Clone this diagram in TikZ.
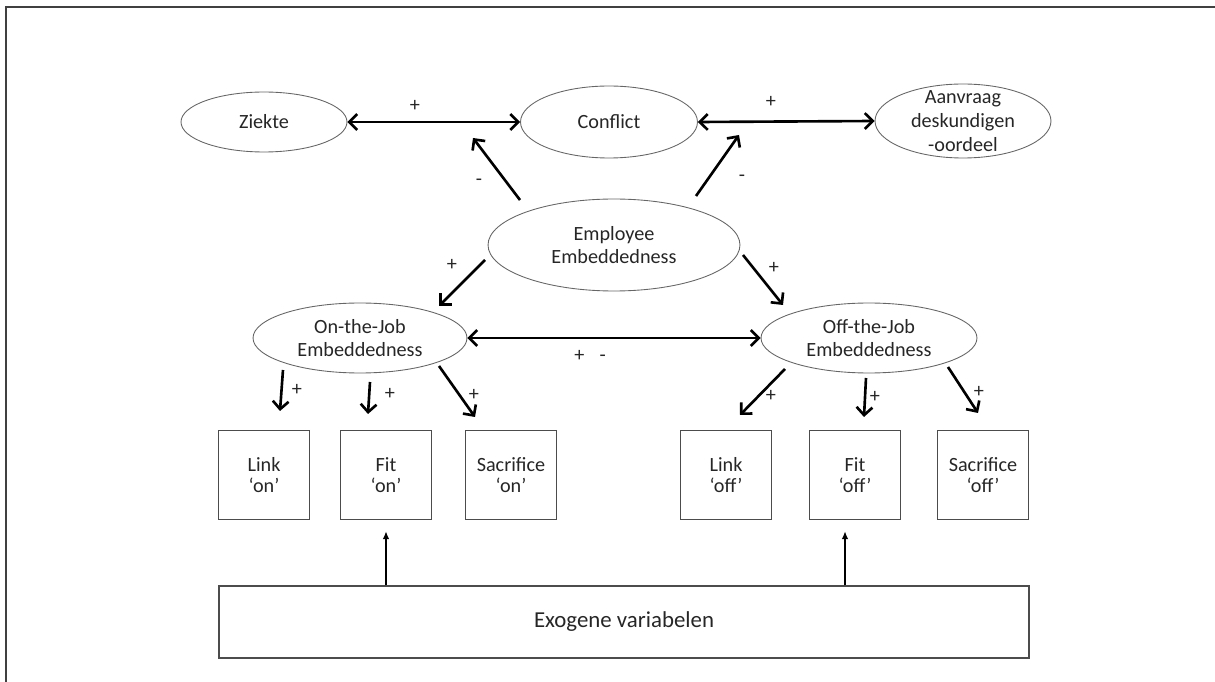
\documentclass[tikz,border=0pt]{standalone}
\usepackage{fontspec}
\setmainfont{Carlito}
\usetikzlibrary{positioning,arrows.meta,shapes.geometric}

\begin{document}
\begin{tikzpicture}[
            x=0.02cm, y=-0.02cm,
            oval/.style={ellipse, draw=black!60, line width=0.5pt, text=black!85, align=center, inner sep=0pt, font=\fontsize{11.5}{13.5}\selectfont},
            box/.style={rectangle, draw=black!70, line width=0.8pt, text=black!85, align=center, minimum width=1.82cm, minimum height=1.78cm, font=\fontsize{11.5}{12}\selectfont},
            sign/.style={text=black!85, inner sep=0pt, font=\fontsize{11.5}{13}\selectfont},
            arr/.style={-{Straight Barb[length=4.5pt,width=9pt]}, line width=1.5pt, black},
            dbl/.style={{Straight Barb[length=4.5pt,width=9pt]}-{Straight Barb[length=4.5pt,width=9pt]}, line width=1.5pt, black},
            uparr/.style={-{Latex[length=4.5pt,width=3.8pt]}, line width=1.1pt, black}
        ]
        \useasboundingbox (0,0) rectangle (1215,682);

        % frame
        \draw[line width=1.3pt, black!75] (6,682) -- (6,7) -- (1215,7);

        % Top row
        \node[oval, minimum width=3.32cm, minimum height=1.2cm] (ziekte) at (264,122) {Ziekte};
        \node[oval, minimum width=3.54cm, minimum height=1.44cm] (conflict) at (609,122) {Conflict};
        \node[oval, minimum width=3.52cm, minimum height=1.48cm, inner ysep=-8pt] (aanvraag) at (963,121) {Aanvraag\\deskundigen\\-oordeel};
        \draw[dbl] (ziekte.east) -- (conflict.west);
        \draw[dbl] (conflict.east) -- (aanvraag.west);
        \node[sign] (s1) at (415,106) {+};
        \node[sign] (s2) at (771,102) {+};

        % Employee embeddedness
        \node[oval, minimum width=5.04cm, minimum height=1.84cm] (employee) at (614,245) {Employee\\Embeddedness};
        \coordinate (eeUL) at (520,200);
        \coordinate (cfL) at (473,138);
        \coordinate (eeUR) at (696,196);
        \coordinate (cfR) at (739,135);
        \draw[arr] (eeUL) -- (cfL);
        \draw[arr] (eeUR) -- (cfR);
        \node[sign] (s3) at (479,182) {-};
        \node[sign] (s4) at (742,178) {-};

        \coordinate (eeL) at (485,260);
        \coordinate (onT) at (439,306);
        \coordinate (eeR) at (743,255);
        \coordinate (offT) at (783,305);
        \draw[arr] (eeL) -- (onT);
        \draw[arr] (eeR) -- (offT);
        \node[sign] (s5) at (452,265) {+};
        \node[sign] (s6) at (774,268) {+};

        % On / Off the job
        \node[oval, minimum width=4.28cm, minimum height=1.4cm] (onjob) at (360,338) {On-the-Job\\Embeddedness};
        \node[oval, minimum width=4.32cm, minimum height=1.4cm] (offjob) at (869,338) {Off-the-Job\\Embeddedness};
        \draw[dbl] (onjob.east) -- (offjob.west);
        \node[sign] (s7) at (590,356) {+\hspace{0.75em}-};

        % Boxes
        \node[box] (linkon) at (264,475) {Link\\‘on’};
        \node[box] (fiton) at (386,475) {Fit\\‘on’};
        \node[box] (sacon) at (511,475) {Sacrifice\\‘on’};
        \node[box] (linkoff) at (726,475) {Link\\‘off’};
        \node[box] (fitoff) at (855,475) {Fit\\‘off’};
        \node[box] (sacoff) at (983,475) {Sacrifice\\‘off’};

        % arrows to the boxes
        \coordinate (on1) at (283,370);
        \coordinate (on1e) at (280,411);
        \coordinate (on2) at (370,382);
        \coordinate (on2e) at (368,414);
        \coordinate (on3) at (439,366);
        \coordinate (on3e) at (475,417);
        \coordinate (off1) at (785,369);
        \coordinate (off1e) at (740,415);
        \coordinate (off2) at (866,378);
        \coordinate (off2e) at (864,417);
        \coordinate (off3) at (948,367);
        \coordinate (off3e) at (978,413);
        \draw[arr] (on1) -- (on1e);
        \draw[arr] (on2) -- (on2e);
        \draw[arr] (on3) -- (on3e);
        \draw[arr] (off1) -- (off1e);
        \draw[arr] (off2) -- (off2e);
        \draw[arr] (off3) -- (off3e);
        \node[sign] (s8) at (297,390) {+};
        \node[sign] (s9) at (390,394) {+};
        \node[sign] (s10) at (474,395) {+};
        \node[sign] (s11) at (771,396) {+};
        \node[sign] (s12) at (875,397) {+};
        \node[sign] (s13) at (979,392) {+};

        % Exogenous
        \node[box, minimum width=16.2cm, minimum height=1.44cm, font=\fontsize{13}{15}\selectfont] (exo) at (624,622) {Exogene variabelen};
        \draw[uparr, shorten >=0.22cm] (exo.north -| fiton.south) -- (fiton.south);
        \draw[uparr, shorten >=0.22cm] ([xshift=-0.2cm]exo.north -| fitoff.south) -- ([xshift=-0.2cm]fitoff.south);
\end{tikzpicture}
\end{document}
